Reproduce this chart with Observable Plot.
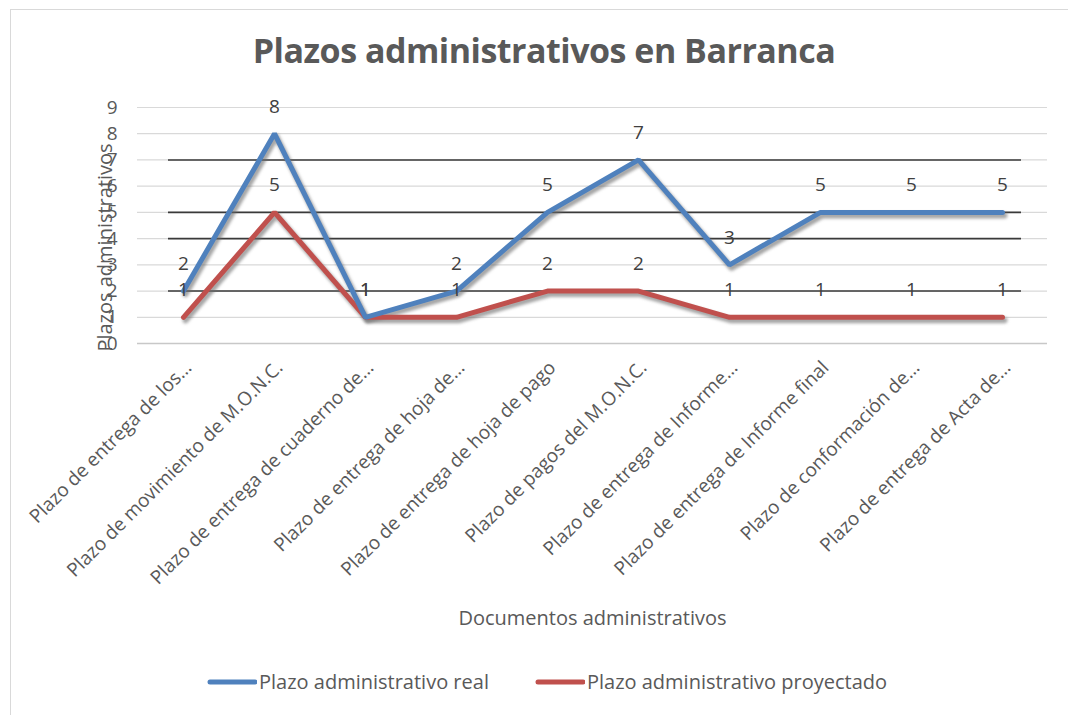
<!DOCTYPE html>
<html>
<head>
<meta charset="utf-8">
<script src="https://cdn.jsdelivr.net/npm/d3@7"></script>
<script src="https://cdn.jsdelivr.net/npm/@observablehq/plot@0.6"></script>
<style>
  html, body { margin: 0; padding: 0; background: #fff; }
  body { width: 1068px; height: 715px; position: relative; overflow: hidden; font-family: "Open Sans", sans-serif; }
  #frame { position: absolute; left: 10px; top: 9px; width: 1070px; height: 720px; border: 1px solid #d9d9d9; box-sizing: border-box; }
  #title { position: absolute; left: 20px; width: 1048px; top: 27px; text-align: center; font-size: 34px; font-weight: 700; color: #595959; letter-spacing: -0.5px; }
  #chart { position: absolute; left: 0; top: 80px; }
  #legend { position: absolute; left: 205px; top: 668px; display: flex; align-items: center; font-size: 20px; color: #595959; }
  .item { display: flex; align-items: center; gap: 2px; margin-right: 44px; }
  .shadow { filter: blur(1.6px); }
</style>
</head>
<body>
<div id="frame"></div>
<div id="title">Plazos administrativos en Barranca</div>
<div id="chart"></div>
<div id="legend"></div>
<script>
const categories = [
  "Plazo de entrega de los…",
  "Plazo de movimiento de M.O.N.C.",
  "Plazo de entrega de cuaderno de…",
  "Plazo de entrega de hoja de…",
  "Plazo de entrega de hoja de pago",
  "Plazo de pagos del M.O.N.C.",
  "Plazo de entrega de Informe…",
  "Plazo de entrega de Informe final",
  "Plazo de conformación de…",
  "Plazo de entrega de Acta de…"
];
const realValues = [2, 8, 1, 2, 5, 7, 3, 5, 5, 5];
const proyectadoValues = [1, 5, 1, 1, 2, 2, 1, 1, 1, 1];
const seriesNames = ["Plazo administrativo real", "Plazo administrativo proyectado"];
const seriesColors = ["#4F81BD", "#C0504D"];
const yTicks = [0, 1, 2, 3, 4, 5, 6, 7, 8, 9];
const strayLineLevels = [7, 5, 4, 2];

const rows = [];
categories.forEach((c, i) => {
  rows.push({cat: c, value: realValues[i], series: seriesNames[0]});
  rows.push({cat: c, value: proyectadoValues[i], series: seriesNames[1]});
});
const real = rows.filter(d => d.series === seriesNames[0]);
const proj = rows.filter(d => d.series === seriesNames[1]);
const strayLines = strayLineLevels.map(v => ({level: v, from: categories[0], to: categories[categories.length - 1]}));

const plot = Plot.plot({
  width: 1068,
  height: 560,
  marginLeft: 137,
  marginRight: 21,
  marginTop: 27,
  marginBottom: 297,
  style: { fontFamily: "Open Sans, sans-serif", fontSize: "19px", color: "#595959", background: "transparent" },
  x: { type: "point", domain: categories, padding: 0.5, label: null, tickSize: 0, tickRotate: -45, tickPadding: 21 },
  y: { domain: [0, 9], ticks: yTicks, label: null, tickSize: 0, tickPadding: 20 },
  color: { domain: seriesNames, range: seriesColors },
  marks: [
    Plot.ruleY(yTicks.filter(t => t > 0), { stroke: "#d9d9d9", strokeWidth: 1.2 }),
    Plot.ruleY([0], { stroke: "#c8c8c8", strokeWidth: 1.5 }),
    Plot.ruleY(strayLines, { y: "level", x1: "from", x2: "to", insetLeft: -15, insetRight: -19, stroke: "#3a3a3a", strokeWidth: 1.6 }),
    Plot.lineY(real, { x: "cat", y: "value", stroke: "#6a6a6a", strokeWidth: 6, strokeOpacity: 0.6, dx: 2, dy: 3, className: "shadow" }),
    Plot.lineY(proj, { x: "cat", y: "value", stroke: "#6a6a6a", strokeWidth: 6, strokeOpacity: 0.6, dx: 2, dy: 3, className: "shadow" }),
    Plot.lineY(proj, { x: "cat", y: "value", stroke: "series", strokeWidth: 5, strokeLinejoin: "miter", strokeLinecap: "round" }),
    Plot.lineY(real, { x: "cat", y: "value", stroke: "series", strokeWidth: 5, strokeLinejoin: "miter", strokeLinecap: "round" }),
    Plot.text(proj, { x: "cat", y: "value", text: d => String(d.value), dy: -27, fill: "#404040", fontSize: 19 }),
    Plot.text(real, { x: "cat", y: "value", text: d => String(d.value), dy: -27, fill: "#404040", fontSize: 19 }),
    Plot.text(["Plazos administrativos"], { frameAnchor: "left", textAnchor: "middle", rotate: -90, dx: -32, dy: 22, fill: "#595959", fontSize: 20 }),
    Plot.text(["Documentos administrativos"], { frameAnchor: "bottom", dy: 281, fill: "#595959", fontSize: 20 })
  ]
});
// nudge the rotated category labels slightly right, as in the reference
plot.querySelectorAll('g[aria-label="x-axis tick label"], g[aria-label="x-axis"]').forEach(g => {
  const t = g.getAttribute("transform") || "";
  g.setAttribute("transform", (t + " translate(5,0)").trim());
});
document.getElementById("chart").appendChild(plot);

const legend = document.getElementById("legend");
seriesNames.forEach((name, i) => {
  const item = document.createElement("div");
  item.className = "item";
  item.innerHTML = `<svg width="52" height="10"><line x1="5" y1="5" x2="50" y2="5" stroke="${seriesColors[i]}" stroke-width="5" stroke-linecap="round"/></svg><span>${name}</span>`;
  legend.appendChild(item);
});
</script>
</body>
</html>
